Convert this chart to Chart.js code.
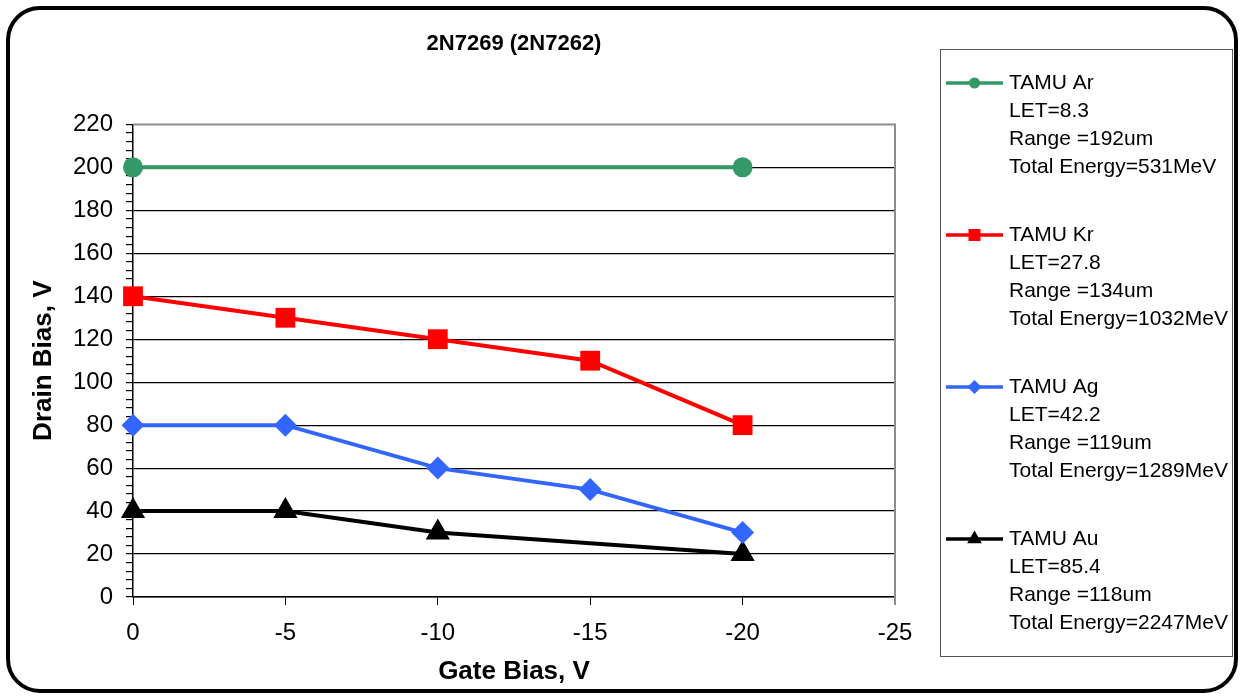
<!DOCTYPE html>
<html>
<head>
<meta charset="utf-8">
<script src="https://cdn.jsdelivr.net/npm/chart.js"></script>
<style>
  html, body { margin: 0; padding: 0; background: #fff; }
  #wrap { position: relative; width: 1241px; height: 696px; overflow: hidden; }
  #frame { position: absolute; left: 6px; top: 6px; width: 1232px; height: 687px; box-sizing: border-box;
           border: 4px solid #000; border-radius: 34px; }
  #chart { position: absolute; left: 0; top: 0; }
</style>
</head>
<body>
<div id="wrap">
  <div id="frame"></div>
  <canvas id="chart" width="1241" height="696"></canvas>
</div>
<script>
// gate bias points (V) and drain bias at failure threshold (V); null = not measured
const gateBias = [0, -5, -10, -15, -20];
const arDrain = [200, null, null, null, 200];
const krDrain = [140, 130, 120, 110, 80];
const agDrain = [80, 80, 60, 50, 30];
const auDrain = [40, 40, 30, null, 20];

const ionNames = ["TAMU Ar", "TAMU Kr", "TAMU Ag", "TAMU Au"];
const letValues = ["8.3", "27.8", "42.2", "85.4"];
const ranges = ["192", "134", "119", "118"];
const energies = ["531", "1032", "1289", "2247"];

const yTicks = [0, 20, 40, 60, 80, 100, 120, 140, 160, 180, 200, 220];

const FONT = "'Liberation Sans', Arial, Helvetica, sans-serif";
Chart.defaults.font.family = FONT;
Chart.defaults.color = "#000";

const toPoints = (values) => gateBias
  .map((x, i) => ({ x, y: values[i] }))
  .filter((p) => p.y !== null);

const series = [
  { values: arDrain, color: "#339966", style: "circle", radius: 10, legendRadius: 5.5 },
  { values: krDrain, color: "#ff0000", style: "rect", radius: 14, legendRadius: 8.5 },
  { values: agDrain, color: "#3366ff", style: "rectRot", radius: 11.5, legendRadius: 7 },
  { values: auDrain, color: "#000000", style: "triangle", radius: 14, legendRadius: 8.5 }
];

const plotFrame = {
  id: "plotFrame",
  afterDatasetsDraw(chart) {
    const { ctx, chartArea: a } = chart;
    ctx.save();
    ctx.strokeStyle = "#8c8c8c";
    ctx.lineWidth = 2;
    ctx.beginPath();
    ctx.moveTo(a.left, a.top);
    ctx.lineTo(a.right, a.top);
    ctx.lineTo(a.right, a.bottom + 8);
    ctx.stroke();
    ctx.restore();
  }
};

function drawMarker(ctx, style, x, y, r, color) {
  ctx.fillStyle = color;
  ctx.beginPath();
  if (style === "circle") {
    ctx.arc(x, y, r, 0, Math.PI * 2);
  } else if (style === "rect") {
    const s = r * Math.SQRT1_2;
    ctx.rect(x - s, y - s, 2 * s, 2 * s);
  } else if (style === "rectRot") {
    ctx.moveTo(x, y - r); ctx.lineTo(x + r, y); ctx.lineTo(x, y + r); ctx.lineTo(x - r, y);
  } else {
    ctx.moveTo(x, y - r);
    ctx.lineTo(x + r * 0.866, y + r * 0.5);
    ctx.lineTo(x - r * 0.866, y + r * 0.5);
  }
  ctx.closePath();
  ctx.fill();
}

const sideLegend = {
  id: "sideLegend",
  afterDraw(chart) {
    const ctx = chart.ctx;
    ctx.save();
    ctx.strokeStyle = "#555";
    ctx.lineWidth = 1;
    ctx.strokeRect(940.5, 49.5, 292, 607);
    ctx.font = "21px " + FONT;
    ctx.textBaseline = "middle";
    ctx.textAlign = "left";
    chart.data.datasets.forEach((ds, i) => {
      const y0 = 83 + i * 152;
      ctx.strokeStyle = ds.borderColor;
      ctx.lineWidth = 3.5;
      ctx.beginPath();
      ctx.moveTo(946, y0);
      ctx.lineTo(1003, y0);
      ctx.stroke();
      drawMarker(ctx, series[i].style, 974.5, y0, series[i].legendRadius, ds.borderColor);
      const lines = [
        ionNames[i],
        "LET=" + letValues[i],
        "Range =" + ranges[i] + "um",
        "Total Energy=" + energies[i] + "MeV"
      ];
      ctx.fillStyle = "#000";
      lines.forEach((t, k) => ctx.fillText(t, 1009, y0 + k * 28));
    });
    ctx.restore();
  }
};

new Chart(document.getElementById("chart"), {
  type: "line",
  data: {
    datasets: series.map((s, i) => ({
      label: ionNames[i],
      data: toPoints(s.values),
      borderColor: s.color,
      backgroundColor: s.color,
      borderWidth: 4,
      pointStyle: s.style,
      pointRadius: s.radius,
      pointHoverRadius: s.radius,
      pointBorderWidth: 0,
      pointBackgroundColor: s.color,
      tension: 0,
      spanGaps: true,
      clip: false
    }))
  },
  options: {
    responsive: false,
    animation: false,
    events: [],
    layout: { padding: { left: 18, right: 346, top: 0, bottom: 0 } },
    plugins: {
      legend: { display: false },
      tooltip: { enabled: false },
      title: {
        display: true,
        text: "2N7269 (2N7262)",
        fullSize: false,
        font: { size: 22, weight: "bold" },
        padding: { top: 31, bottom: 67 }
      }
    },
    scales: {
      x: {
        type: "linear",
        min: -25,
        max: 0,
        reverse: true,
        afterFit: (scale) => { scale.height = 99; },
        ticks: { stepSize: 5, font: { size: 24 }, padding: 14, maxRotation: 0 },
        grid: { drawOnChartArea: false, drawTicks: true, tickLength: 8, color: "#000" },
        border: { color: "#000", width: 1.5 },
        title: {
          display: true,
          text: "Gate Bias, V",
          font: { size: 26, weight: "bold" },
          padding: { top: 0, bottom: 9 }
        }
      },
      y: {
        min: 0,
        max: 220,
        afterFit: (scale) => { scale.width = 115; },
        afterBuildTicks: (scale) => {
          const all = [];
          for (let v = 0; v <= 220; v += 4) all.push({ value: v, major: yTicks.includes(v) });
          scale.ticks = all;
        },
        ticks: {
          autoSkip: false,
          font: { size: 24 },
          padding: 13,
          callback: (v) => (yTicks.includes(v) ? v : "")
        },
        grid: {
          tickLength: 7,
          lineWidth: 1.2,
          color: (c) => (c.tick && yTicks.includes(c.tick.value) && c.tick.value !== 220 ? "#000" : "rgba(0,0,0,0)"),
          tickColor: "#000"
        },
        border: { color: "#000", width: 1.5 },
        title: {
          display: true,
          text: "Drain Bias, V",
          font: { size: 26, weight: "bold" },
          padding: { top: 10, bottom: 0 }
        }
      }
    }
  },
  plugins: [plotFrame, sideLegend]
});
</script>
</body>
</html>
